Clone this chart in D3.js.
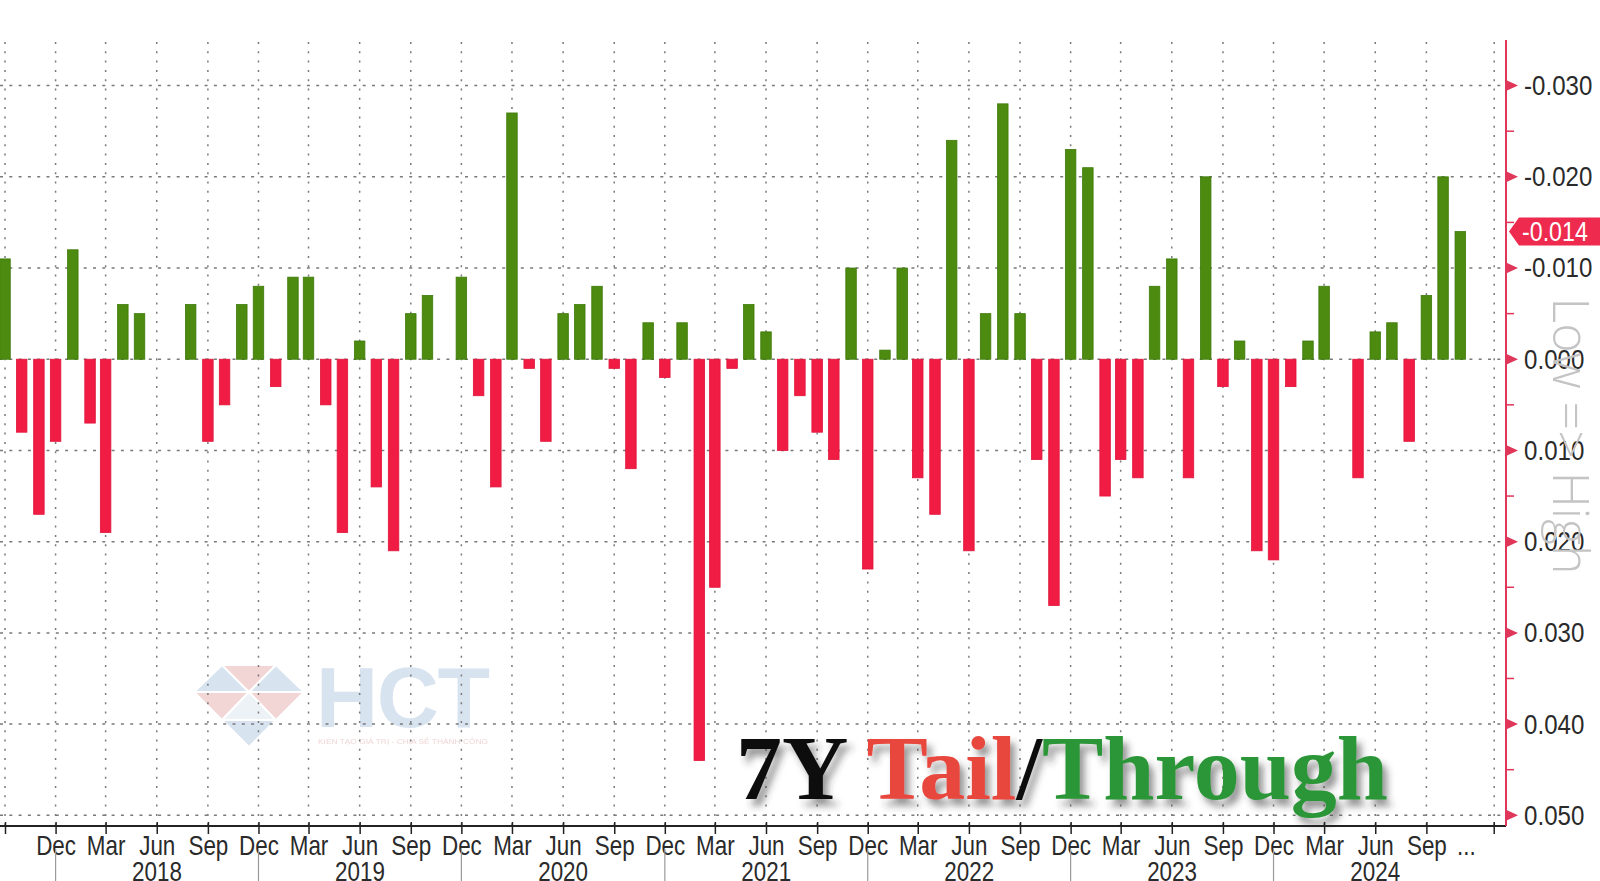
<!DOCTYPE html>
<html>
<head>
<meta charset="utf-8">
<script src="https://cdn.jsdelivr.net/npm/d3@7"></script>
<style>
  html, body { margin: 0; padding: 0; background: #fff; overflow: hidden; }
  svg { display: block; }
  .axis text, .yearlabel { font-family: "Liberation Sans", Arial, sans-serif; fill: #2a2a2a; }
</style>
</head>
<body>
<div class="chart"></div>
<script>
// first auction shown (bars sit at the end of the auction month)
const firstAuction = [2017, 7];
// 7Y auction tail (+) / stop-through (-), Aug 2017 .. Oct 2024
const tailThrough = [
  -0.011, 0.008, 0.017, 0.009, -0.012, 0.007, 0.019, -0.006, -0.005, 0.000,
   0.000, -0.006, 0.009, 0.005, -0.006, -0.008, 0.003, -0.009, -0.009, 0.005,
   0.019, -0.002, 0.014, 0.021, -0.005, -0.007, 0.000, -0.009, 0.004, 0.014,
  -0.027, 0.001, 0.009, -0.005, -0.006, -0.008, 0.001, 0.012, -0.004, 0.002,
  -0.004, 0.044, 0.025, 0.001, -0.006, -0.003, 0.010, 0.004, 0.008, 0.011,
  -0.010, 0.023, -0.001, -0.010, 0.013, 0.017, -0.024, 0.021, -0.005, -0.028,
  -0.005, 0.011, 0.027, -0.023, -0.021, 0.015, 0.011, 0.013, -0.008, -0.011,
   0.013, -0.020, 0.003, -0.002, 0.021, 0.022, 0.003, -0.002, -0.008, 0.000,
   0.013, -0.003, -0.004, 0.009, -0.007, -0.020, -0.014
];
const yTicks = [-0.03, -0.02, -0.01, 0, 0.01, 0.02, 0.03, 0.04, 0.05];
const yMinorTicks = [-0.025, -0.015, -0.005, 0.005, 0.015, 0.025, 0.035, 0.045];
const years = [2018, 2019, 2020, 2021, 2022, 2023, 2024];
const lastValue = -0.014;
const titleParts = [
  { text: "7Y ", color: "#111" },
  { text: "Tail", color: "#e8463d" },
  { text: "/", color: "#111" },
  { text: "Through", color: "#2b9638" }
];

let config = {
  W: 1600, H: 881,
  left: 0, right: 1506, top: 42, bottom: 826,
  x0: 5, x1: 1460.3,          // pixel of first / last bar
  y0: 85.6, y1: 815.3,        // pixel of -0.03 / 0.05
  barW: 10.5,
  narrow: 0.83,               // horizontal squeeze to mimic a condensed font
  green: "#4c8a10", red: "#f01c44", axisRed: "#e0365a"
};
const fmt = d => d3.format('.3f')(d).replace('\u2212', '-');

let svg = d3.select('.chart').append('svg')
  .attr('width', config.W)
  .attr('height', config.H);

let defs = svg.append('defs');
let shadow = defs.append('filter').attr('id', 'shadow')
  .attr('x', '-10%').attr('y', '-10%').attr('width', '130%').attr('height', '140%');
shadow.append('feDropShadow')
  .attr('dx', 5).attr('dy', 7).attr('stdDeviation', 3.5)
  .attr('flood-color', '#333').attr('flood-opacity', 0.5);

// scales
let start = new Date(firstAuction[0], firstAuction[1] + 1, 1);
let barDates = tailThrough.map((d, i) => d3.timeMonth.offset(start, i));
let x = d3.scaleTime()
  .domain([barDates[0], barDates[barDates.length - 1]])
  .range([config.x0, config.x1]);
let y = d3.scaleLinear().domain([-0.03, 0.05]).range([config.y0, config.y1]);

let quarterTicks = d3.timeMonth.range(start, new Date(2024, 9, 2), 3);
let endTick = new Date(2025, 0, 1);

// ---- watermark
let wm = svg.append('g').attr('class', 'watermark').attr('opacity', 0.55);
let tri = [
  [[194,692],[222,665],[249,692], '#b9cde4'],
  [[222,665],[276,665],[249,692], '#e9b3b3'],
  [[249,692],[276,665],[304,692], '#b9cde4'],
  [[194,692],[249,692],[222,720], '#e9b3b3'],
  [[249,692],[276,720],[222,720], '#dfe8f2'],
  [[249,692],[304,692],[276,720], '#e9b3b3'],
  [[222,720],[276,720],[249,747], '#b9cde4']
];
wm.selectAll('path').data(tri).enter().append('path')
  .attr('d', d => `M${d[0]}L${d[1]}L${d[2]}Z`)
  .attr('fill', d => d[3])
  .attr('stroke', '#fff').attr('stroke-width', 2);
wm.append('text')
  .attr('x', 316).attr('y', 727)
  .attr('font-family', 'Liberation Sans, Arial, sans-serif')
  .attr('font-weight', 'bold').attr('font-size', 86)
  .attr('textLength', 174).attr('fill', '#b9cde4')
  .text('HCT');
wm.append('text')
  .attr('x', 318).attr('y', 744)
  .attr('font-family', 'Liberation Sans, Arial, sans-serif')
  .attr('font-size', 8).attr('fill', '#e2b3b3')
  .attr('textLength', 170).attr('lengthAdjust', 'spacingAndGlyphs')
  .text('KIẾN TẠO GIÁ TRỊ - CHIA SẺ THÀNH CÔNG');

// ---- grid
let grid = svg.append('g').attr('class', 'grid');
grid.selectAll('line.h').data(yTicks).enter().append('line')
  .attr('x1', config.left).attr('x2', config.right)
  .attr('y1', d => y(d)).attr('y2', d => y(d))
  .attr('stroke', '#7a7a7a').attr('stroke-width', 1.5)
  .attr('stroke-dasharray', '3,6.3');
grid.selectAll('line.v').data(quarterTicks.concat([endTick])).enter().append('line')
  .attr('x1', d => x(d)).attr('x2', d => x(d))
  .attr('y1', config.top).attr('y2', config.bottom)
  .attr('stroke', '#7a7a7a').attr('stroke-width', 1.5)
  .attr('stroke-dasharray', '2,7.3');

// ---- bars
svg.append('g').attr('class', 'bars')
  .selectAll('rect.bar')
  .data(tailThrough)
  .enter()
  .append('rect')
  .attr('class', 'bar')
  .attr('x', (d, i) => x(barDates[i]) - config.barW / 2)
  .attr('width', config.barW)
  .attr('y', d => Math.min(y(d), y(0)))
  .attr('height', d => Math.abs(y(d) - y(0)))
  .attr('fill', d => d < 0 ? config.green : config.red)
  .attr('stroke', d => d === 0 ? '#555' : (d < 0 ? '#3f7a0a' : '#e0143a'))
  .attr('stroke-width', d => d === 0 ? 1.5 : 0.8);

// ---- title
let title = svg.append('text')
  .attr('x', 736).attr('y', 799)
  .attr('font-family', '"Liberation Serif", "DejaVu Serif", serif')
  .attr('font-weight', 'bold')
  .attr('font-size', 92)
  .attr('filter', 'url(#shadow)');
title.selectAll('tspan').data(titleParts).enter().append('tspan')
  .attr('fill', d => d.color)
  .text(d => d.text);

// ---- x axis
let xAxis = d3.axisBottom(x)
  .tickValues(quarterTicks)
  .tickSize(8)
  .tickFormat(d3.timeFormat('%b'));
let gx = svg.append('g')
  .attr('class', 'x axis')
  .attr('transform', `translate(0, ${config.bottom})`)
  .call(xAxis);
gx.select('.domain').remove();
gx.selectAll('.tick line').attr('stroke', '#222').attr('stroke-width', 1.5).attr('y1', -4);
gx.selectAll('.tick text')
  .attr('y', 10).attr('dy', '0.71em')
  .attr('font-size', 27)
  .attr('transform', `scale(${config.narrow},1)`)
  .style('display', d => x(d) < 20 ? 'none' : null);
gx.append('line')
  .attr('x1', config.left).attr('x2', config.right)
  .attr('stroke', '#222').attr('stroke-width', 2);
gx.append('line')
  .attr('x1', x(endTick)).attr('x2', x(endTick))
  .attr('y1', -4).attr('y2', 8)
  .attr('stroke', '#222').attr('stroke-width', 1.5);
gx.append('text')
  .attr('transform', `translate(${x(barDates[barDates.length - 1]) + 6}, 10) scale(${config.narrow},1)`)
  .attr('dy', '0.71em')
  .attr('text-anchor', 'middle')
  .attr('font-size', 27)
  .text('...');

// year separators and labels
let yearStarts = years.map(yr => new Date(yr - 1, 11, 1));
svg.append('g').selectAll('line').data(yearStarts).enter().append('line')
  .attr('x1', d => x(d)).attr('x2', d => x(d))
  .attr('y1', 849).attr('y2', config.H)
  .attr('stroke', '#9a9a9a').attr('stroke-width', 1.2);
svg.append('g').selectAll('text').data(years).enter().append('text')
  .attr('class', 'yearlabel')
  .attr('transform', d => {
    let cx = (x(new Date(d - 1, 11, 1)) + Math.min(x(new Date(d, 11, 1)), config.right)) / 2;
    return `translate(${cx}, 881) scale(${config.narrow},1)`;
  })
  .attr('text-anchor', 'middle')
  .attr('font-size', 27)
  .text(d => d);

// ---- right axis
let yAxis = d3.axisRight(y)
  .tickValues(yTicks)
  .tickSize(0)
  .tickPadding(21)
  .tickFormat(fmt);
let gy = svg.append('g')
  .attr('class', 'y axis')
  .attr('transform', `translate(${config.right}, 0)`)
  .call(yAxis);
gy.select('.domain').remove();
gy.selectAll('.tick text')
  .attr('font-size', 28)
  .attr('transform', 'scale(0.86,1)');
gy.append('line')
  .attr('y1', config.top - 2).attr('y2', config.bottom)
  .attr('stroke', config.axisRed).attr('stroke-width', 2);
gy.selectAll('path.marker').data(yTicks).enter().append('path')
  .attr('class', 'marker')
  .attr('d', d => `M0,${y(d) - 5.5}L12,${y(d)}L0,${y(d) + 5.5}Z`)
  .attr('fill', config.axisRed);
gy.selectAll('line.minor').data(yMinorTicks).enter().append('line')
  .attr('class', 'minor')
  .attr('x1', 0).attr('x2', 8)
  .attr('y1', d => y(d)).attr('y2', d => y(d))
  .attr('stroke', config.axisRed).attr('stroke-width', 1.5);

// last value tag
let tag = gy.append('g').attr('transform', `translate(0, ${y(lastValue)})`);
tag.append('path')
  .attr('d', 'M3,0L13,-14L94,-14L94,14L13,14Z')
  .attr('fill', '#ee2a4e');
tag.append('text')
  .attr('transform', 'translate(16,0) scale(0.86,1)')
  .attr('dy', '0.35em')
  .attr('font-size', 27)
  .style('fill', '#fff')
  .text(fmt(lastValue));

// rotated axis caption
svg.append('text')
  .attr('transform', 'translate(1553, 436) rotate(90)')
  .attr('text-anchor', 'middle')
  .attr('font-family', '"Open Sans", "Liberation Sans", sans-serif')
  .attr('font-weight', 300)
  .attr('font-size', 50)
  .attr('fill', '#c4c4c4')
  .text('Low => High');
</script>
</body>
</html>
